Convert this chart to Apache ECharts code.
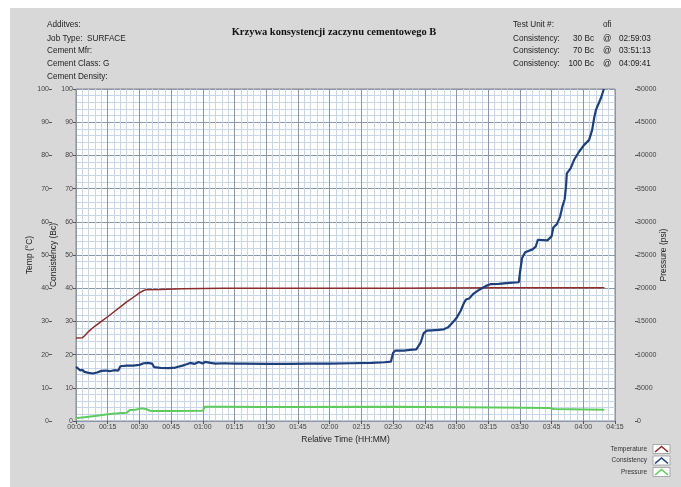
<!DOCTYPE html>
<html><head><meta charset="utf-8">
<script src="https://cdn.jsdelivr.net/npm/echarts@6/dist/echarts.min.js"></script>
<style>html,body{margin:0;padding:0;background:#fff}#c{width:681px;height:487px}</style>
</head><body><div id="c"></div>
<script>
// ---- data (time in minutes from start) ----
const consTime = [0,1,2,3,4,6,8,10,12,14,16,18,20,21,24,27,30,32,34,36,37,40,44,47,50,52,54,56,58,60,61,63,66,70,75,80,90,100,110,120,130,140,146,149,150,151,155,158,161,163,164.5,166,170,174,176,178,180,182,183.5,184.5,186,188,190,192,194,196,200,205,209.5,210,211,212.5,216,217.5,218.5,223,225,225.8,227.5,229,230.2,231.2,231.8,232.2,234,235.6,238,240.3,242.7,244.2,245.2,246,247.5,248.5,249.7];
const consValue = [16.3,15.8,15.2,15.4,14.8,14.5,14.3,14.6,15.1,15.2,15.0,15.3,15.2,16.5,16.7,16.7,16.9,17.4,17.5,17.3,16.2,16.0,15.9,16.1,16.6,17.0,17.5,17.2,17.8,17.3,17.8,17.6,17.3,17.4,17.3,17.3,17.2,17.2,17.3,17.3,17.4,17.5,17.7,17.9,20.5,21.2,21.2,21.4,21.6,23.5,26.5,27.2,27.4,27.6,28.2,29.5,31.0,33.2,35.5,36.6,36.9,38.3,39.2,40.0,40.7,41.2,41.3,41.6,41.8,44.5,49.0,50.8,51.7,52.5,54.6,54.4,55.6,58.3,59.3,61.5,64.8,66.8,70.5,74.6,76.1,78.6,81.1,83.1,84.6,87.7,91.5,93.7,96.0,97.5,100];
const tempTime = [0,3,4,6,9,12,15,18,21,24,27,30,32,33,40,50,60,70,100,150,200,250];
const tempValue = [25,25.1,25.6,27.0,28.6,30.0,31.4,32.9,34.4,35.9,37.2,38.6,39.3,39.5,39.6,39.8,39.9,40.0,40.0,40.0,40.1,40.1];
const presTime = [0,5,10,15,20,24,25.5,28,31,33,35,37,45,60,61,70,87,100,150,200,224,226,250];
const presValue = [400,600,800,1000,1150,1250,1650,1700,1900,1800,1550,1500,1520,1550,2150,2150,2100,2100,2150,2050,1950,1800,1700];

const headerLeft = ['Additves:','Job Type:  SURFACE','Cement Mfr:','Cement Class: G','Cement Density:'];
const headerRightLabels = ['Test Unit #:','Consistency:','Consistency:','Consistency:'];
const headerRightBc = ['', '30 Bc','70 Bc','100 Bc'];
const headerRightTime = ['', '02:59:03','03:51:13','04:09:41'];
const legendNames = ['Temperature','Consistency','Pressure'];
const colors = {temp:'#8e2b2b', cons:'#1d3f7c', pres:'#5ecb5e'};

function pairs(t,v){return t.map((x,i)=>[x,v[i]]);}
function hhmm(m){const h=Math.floor(m/60), mm=Math.round(m%60);return String(h).padStart(2,'0')+':'+String(mm).padStart(2,'0');}

const FONT = '"Liberation Sans", Arial, sans-serif';
const chart = echarts.init(document.getElementById('c'), null, {renderer:'canvas'});

const graphics = [
  {type:'rect', shape:{x:10,y:8,width:671,height:479}, style:{fill:'#d8d8d8'}, z:-10, silent:true},
  {type:'text', x:334, y:32, style:{text:'Krzywa konsystencji zaczynu cementowego B', font:'bold 10.5px "Liberation Serif", "Times New Roman", serif', fill:'#111', textAlign:'center', textVerticalAlign:'middle'}}
];
const rowsY = [25,38.5,51,64,77];
headerLeft.forEach((t,i)=>graphics.push({type:'text', x:47, y:rowsY[i], style:{text:t, font:'8.2px '+FONT, fill:'#222', textVerticalAlign:'middle'}}));
headerRightLabels.forEach((t,i)=>{
  graphics.push({type:'text', x:513, y:rowsY[i], style:{text:t, font:'8.2px '+FONT, fill:'#222', textVerticalAlign:'middle'}});
  if(headerRightBc[i]){
    graphics.push({type:'text', x:594, y:rowsY[i], style:{text:headerRightBc[i], font:'8.2px '+FONT, fill:'#222', textAlign:'right', textVerticalAlign:'middle'}});
    graphics.push({type:'text', x:603, y:rowsY[i], style:{text:'@', font:'8.2px '+FONT, fill:'#222', textVerticalAlign:'middle'}});
    graphics.push({type:'text', x:619, y:rowsY[i], style:{text:headerRightTime[i], font:'8.2px '+FONT, fill:'#222', textVerticalAlign:'middle'}});
  }
});
graphics.push({type:'text', x:603, y:rowsY[0], style:{text:'ofi', font:'8.2px '+FONT, fill:'#222', textVerticalAlign:'middle'}});
const legColors=[colors.temp,colors.cons,colors.pres];
const legY=[449,460.5,472];
legendNames.forEach((n,i)=>{
  graphics.push({type:'text', x:647, y:legY[i], style:{text:n, font:'6.5px '+FONT, fill:'#333', textAlign:'right', textVerticalAlign:'middle'}});
  graphics.push({type:'rect', shape:{x:653,y:legY[i]-4.5,width:17,height:9}, style:{fill:'#fff', stroke:'#999', lineWidth:0.8}});
  graphics.push({type:'polyline', shape:{points:[[655,legY[i]+3],[661.5,legY[i]-2.5],[668,legY[i]+3]]}, style:{stroke:legColors[i], lineWidth:1.6, fill:null}});
});

const axisLabelStyle = {fontSize:7, color:'#444', fontFamily:FONT};
const majorLine = {show:true, lineStyle:{color:'#8a96ad', width:1}};
const minorLine = {show:true, lineStyle:{color:'#c8d7e7', width:1}};
const nameStyle = {fontSize:8.5, color:'#222', fontFamily:FONT};

chart.setOption({
  animation:false,
  backgroundColor:'transparent',
  graphic: graphics,
  grid:{left:76, top:89, width:539, height:332, show:true, backgroundColor:'#ffffff', borderColor:'#8a8a8a', borderWidth:1},
  xAxis:{type:'value', min:0, max:255, interval:15,
    name:'Relative Time (HH:MM)', nameLocation:'middle', nameGap:14, nameMoveOverlap:false, nameTextStyle:nameStyle,
    axisLine:{show:false}, axisTick:{show:true, length:3, lineStyle:{color:'#555'}},
    axisLabel:Object.assign({margin:3, formatter:v=>hhmm(v)}, axisLabelStyle),
    splitLine:majorLine, minorTick:{show:false, splitNumber:5}, minorSplitLine:minorLine},
  yAxis:[
    {type:'value', min:0, max:100, interval:10, position:'left', offset:0,
      name:'Consistency (Bc)', nameLocation:'middle', nameGap:18, nameMoveOverlap:false, nameTextStyle:nameStyle,
      axisLine:{show:false}, axisTick:{show:true, length:3, lineStyle:{color:'#555'}},
      axisLabel:Object.assign({margin:3}, axisLabelStyle),
      splitLine:majorLine, minorTick:{show:false, splitNumber:5}, minorSplitLine:minorLine},
    {type:'value', min:0, max:100, interval:10, position:'left', offset:24,
      name:'Temp (°C)', nameLocation:'middle', nameGap:17.5, nameMoveOverlap:false, nameTextStyle:nameStyle,
      axisLine:{show:false}, axisTick:{show:true, length:3, lineStyle:{color:'#555'}},
      axisLabel:Object.assign({margin:3}, axisLabelStyle), splitLine:{show:false}},
    {type:'value', min:0, max:50000, interval:5000, position:'right', offset:20,
      name:'Pressure (psi)', nameLocation:'middle', nameGap:24, nameMoveOverlap:false, nameTextStyle:nameStyle,
      axisLine:{show:false}, axisTick:{show:true, length:3, lineStyle:{color:'#555'}},
      axisLabel:Object.assign({margin:2, formatter:v=>String(v)}, axisLabelStyle), splitLine:{show:false}}
  ],
  series:[
    {name:'Temperature', type:'line', yAxisIndex:1, data:pairs(tempTime,tempValue), showSymbol:false, lineStyle:{color:colors.temp, width:1.5}, itemStyle:{color:colors.temp}, z:3},
    {name:'Pressure', type:'line', yAxisIndex:2, data:pairs(presTime,presValue), showSymbol:false, lineStyle:{color:colors.pres, width:2}, itemStyle:{color:colors.pres}, z:3},
    {name:'Consistency', type:'line', yAxisIndex:0, data:pairs(consTime,consValue), showSymbol:false, lineStyle:{color:colors.cons, width:2.2}, itemStyle:{color:colors.cons}, z:4}
  ]
});
</script></body></html>
